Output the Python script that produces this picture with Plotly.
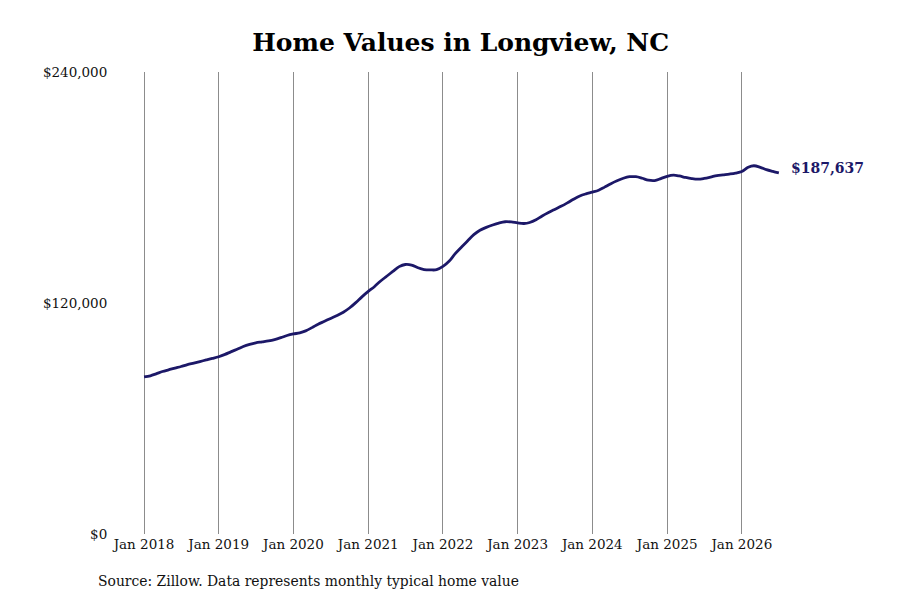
import plotly.graph_objects as go
import pandas as pd

# monthly typical home value, Jan 2018 - Jul 2026
months = pd.date_range("2018-01-01", "2026-07-01", freq="MS")

values = [
    # 2018
    81600, 82200, 83200, 84400, 85300, 86200, 87000, 88000, 88800, 89600, 90400, 91200,
    # 2019
    92100, 93300, 94600, 96000, 97400, 98500, 99300, 99800, 100300, 101000, 102000, 103100,
    # 2020
    103900, 104500, 105500, 107200, 109000, 110500, 112000, 113500, 115200, 117400, 120200, 123200,
    # 2021
    126000, 128600, 131300, 133900, 136400, 138900, 140000, 139700, 138300, 137400, 137200, 137300,
    # 2022
    139000, 141800, 145500, 149000, 152200, 155500, 157800, 159300, 160500, 161500, 162200, 162100,
    # 2023
    161600, 161300, 161800, 163200, 165200, 167000, 168600, 170200, 172000, 173900, 175600, 176700,
    # 2024
    177600, 178600, 180200, 182000, 183500, 184800, 185600, 185600, 184800, 183800, 183600, 184600,
    # 2025
    185800, 186400, 186000, 185200, 184600, 184300, 184700, 185400, 186200, 186600, 187000, 187500,
    # 2026
    188300, 190500, 191300, 190500, 189300, 188400, 187637,
]

tick_vals = ["2018-01-01", "2019-01-01", "2020-01-01", "2021-01-01", "2022-01-01",
             "2023-01-01", "2024-01-01", "2025-01-01", "2026-01-01"]
tick_text = ["Jan 2018", "Jan 2019", "Jan 2020", "Jan 2021", "Jan 2022",
             "Jan 2023", "Jan 2024", "Jan 2025", "Jan 2026"]

y_ticks = [0, 120000, 240000]
y_text = ["$0", "$120,000", "$240,000"]

line_color = "#1c1868"
font_name = "DejaVu Serif"

fig = go.Figure()

fig.add_trace(go.Scatter(
    x=months,
    y=values,
    mode="lines",
    line={"color": line_color, "width": 2.8, "shape": "spline"},
    hoverinfo="x+y",
    showlegend=False,
))

# label for the latest value
fig.add_annotation(
    x=months[-1],
    y=values[-1],
    text=f"<b>${values[-1]:,}</b>",
    showarrow=False,
    xanchor="left",
    yanchor="middle",
    xshift=10,
    yshift=5,
    font={"family": font_name, "size": 14, "color": line_color},
)

fig.add_annotation(
    x=0, y=0,
    xref="paper", yref="paper",
    text="Source: Zillow. Data represents monthly typical home value",
    showarrow=False,
    xanchor="left",
    yanchor="top",
    xshift=-19,
    yshift=-37,
    font={"family": font_name, "size": 13.9, "color": "#111111"},
)

# the page adds an 8px offset, so margins are pulled in to match
fig.update_layout(
    width=900,
    height=600,
    margin={"l": 107, "r": 123, "t": 64, "b": 74},
    paper_bgcolor="white",
    plot_bgcolor="white",
    font={"family": font_name, "size": 13.5, "color": "#111111"},
    title={
        "text": "<b>Home Values in Longview, NC</b>",
        "x": 0.503,
        "xanchor": "center",
        "y": 0.943,
        "yanchor": "middle",
        "font": {"family": font_name, "size": 25, "color": "#000000"},
    },
    xaxis={
        "range": ["2017-08-12", "2026-07-31"],
        "tickvals": tick_vals,
        "ticktext": tick_text,
        "showgrid": True,
        "gridcolor": "#8c8c8c",
        "gridwidth": 1,
        "showline": False,
        "zeroline": False,
        "ticks": "",
    },
    yaxis={
        "range": [0, 240000],
        "tickvals": y_ticks,
        "ticktext": y_text,
        "showgrid": False,
        "showline": False,
        "zeroline": False,
        "ticks": "outside",
        "ticklen": 4,
        "tickcolor": "white",
    },
)

fig.write_html("out.html")
